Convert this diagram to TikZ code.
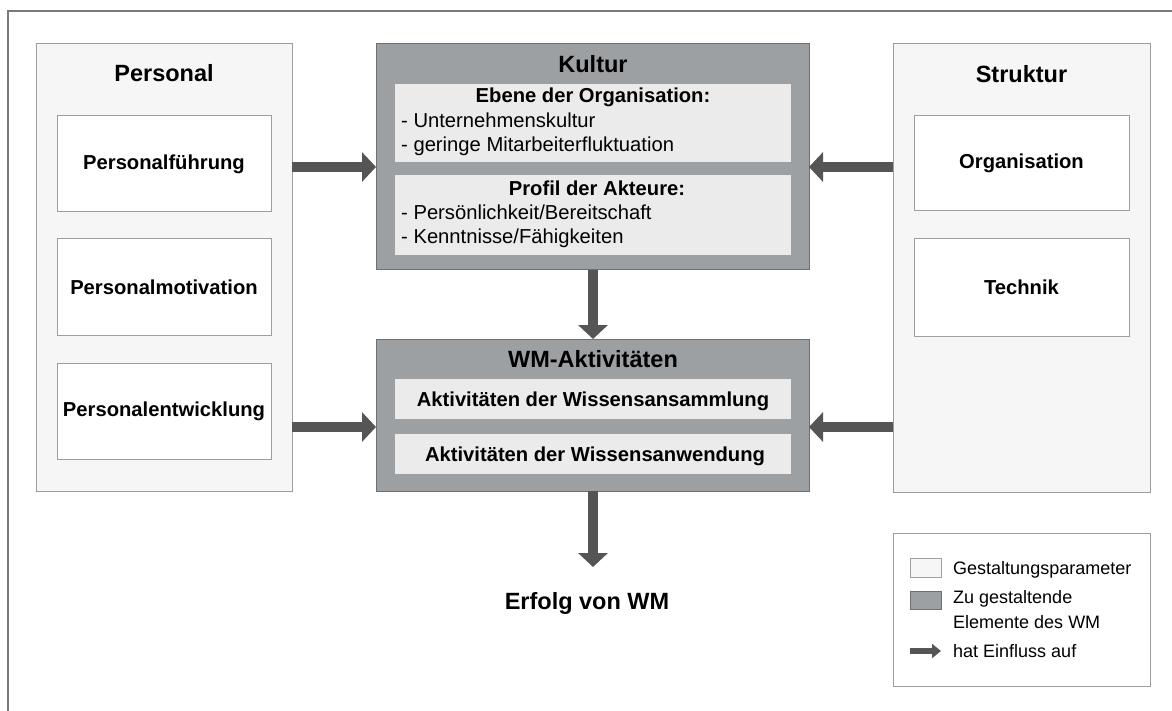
\documentclass[tikz,border=0pt]{standalone}
\usepackage{fontspec}
\setmainfont{Liberation Sans}
\usetikzlibrary{arrows.meta}
\definecolor{framegray}{HTML}{7A7A7A}
\definecolor{paramfill}{HTML}{F6F6F6}
\definecolor{paramline}{HTML}{9E9E9E}
\definecolor{elemfill}{HTML}{9DA0A3}
\definecolor{elemline}{HTML}{707070}
\definecolor{subfill}{HTML}{EBEBEB}
\definecolor{arrowgray}{HTML}{555555}
\begin{document}
\begin{tikzpicture}[x=1pt,y=-1pt,
  box/.style={rectangle,inner sep=0pt,outer sep=0pt,line width=1pt},
  parambox/.style={box,draw=paramline,fill=paramfill},
  itembox/.style={box,draw=paramline,fill=white,font=\bfseries\fontsize{20.2}{23}\selectfont},
  elembox/.style={box,draw=elemline,fill=elemfill},
  subbox/.style={box,fill=subfill},
  title/.style={inner sep=0pt,anchor=base,font=\bfseries\fontsize{23.5}{26}\selectfont},
  subhead/.style={inner sep=0pt,anchor=base,font=\bfseries\fontsize{20.2}{24}\selectfont},
  subitem/.style={inner sep=0pt,anchor=base west,font=\fontsize{20.2}{24}\selectfont},
  legtext/.style={inner sep=0pt,anchor=base west,font=\fontsize{18}{22}\selectfont},
  influence/.style={draw=arrowgray,line width=10pt,-{Triangle[width=29pt,length=14pt,fill=arrowgray]}},
  leginfluence/.style={draw=arrowgray,line width=6pt,-{Triangle[width=14pt,length=9pt,fill=arrowgray]}}
]
\useasboundingbox (0,0) rectangle (1172,711);
\fill[white] (0,0) rectangle (1172,711);
% outer frame
\draw[framegray,line width=1.2pt] (8,711) -- (8,11) -- (1172,11);

% Personal
\node[parambox,minimum width=256pt,minimum height=447pt] (personal) at (164,267.5) {};
\node[title] (personalT) at (164,82) {Personal};
\node[itembox,minimum width=214pt,minimum height=96pt] (fuehrung) at (164,164) {Personalführung};
\node[itembox,minimum width=214pt,minimum height=96pt] (motivation) at (164,287) {Personalmotivation};
\node[itembox,minimum width=214pt,minimum height=96pt] (entwicklung) at (164,411) {Personalentwicklung};

% Struktur
\node[parambox,minimum width=257pt,minimum height=448pt] (struktur) at (1021.5,268) {};
\node[title] (strukturT) at (1021.5,83) {Struktur};
\node[itembox,minimum width=215pt,minimum height=95pt] (organisation) at (1021.5,163.5) {Organisation};
\node[itembox,minimum width=215pt,minimum height=97pt] (technik) at (1021.5,287.5) {Technik};

% Kultur
\node[elembox,minimum width=433pt,minimum height=226pt] (kultur) at (592.5,157) {};
\node[title] (kulturT) at (593,73) {Kultur};
\node[subbox,minimum width=396pt,minimum height=78pt] (ebene) at (593,123) {};
\node[subhead] (ebeneT) at (593,103) {Ebene der Organisation:};
\node[subitem] (ebene1) at (401,128) {- Unternehmenskultur};
\node[subitem] (ebene2) at (401,151.5) {- geringe Mitarbeiterfluktuation};
\node[subbox,minimum width=396pt,minimum height=80pt] (profil) at (593,215) {};
\node[subhead] (profilT) at (597,196) {Profil der Akteure:};
\node[subitem] (profil1) at (401,220) {- Persönlichkeit/Bereitschaft};
\node[subitem] (profil2) at (401,244) {- Kenntnisse/Fähigkeiten};

% WM-Aktivitaeten
\node[elembox,minimum width=433pt,minimum height=152pt] (wm) at (592.5,415) {};
\node[title] (wmT) at (593,367) {WM-Aktivitäten};
\node[subbox,minimum width=396pt,minimum height=40pt] (sammlung) at (593,399) {};
\node[subhead] at (593,406) {Aktivitäten der Wissensansammlung};
\node[subbox,minimum width=396pt,minimum height=40pt] (anwendung) at (593,454) {};
\node[subhead] at (595,461) {Aktivitäten der Wissensanwendung};

% result
\node[title] (erfolg) at (587,609) {Erfolg von WM};
\coordinate (erfolgTop) at (593,567);

% influences
\draw[influence] (personal.east |- 0,167) -- (kultur.west |- 0,167);
\draw[influence] (personal.east |- 0,427) -- (wm.west |- 0,427);
\draw[influence] (struktur.west |- 0,167) -- (kultur.east |- 0,167);
\draw[influence] (struktur.west |- 0,427) -- (wm.east |- 0,427);
\draw[influence] (kultur.south -| 593,0) -- (wm.north -| 593,0);
\draw[influence] (wm.south -| 593,0) -- (erfolgTop);

% legend
\node[box,draw=paramline,fill=white,minimum width=257pt,minimum height=153pt] (legend) at (1021.5,609.5) {};
\node[box,draw=paramline,fill=paramfill,minimum width=31pt,minimum height=19pt] (legParam) at (925.5,567.5) {};
\node[legtext] at (953,574) {Gestaltungsparameter};
\node[box,draw=elemline,fill=elemfill,minimum width=31pt,minimum height=18pt] (legElem) at (925.5,600) {};
\node[legtext] at (953,603) {Zu gestaltende};
\node[legtext] at (953,628) {Elemente des WM};
\coordinate (legArrowA) at (910,651);
\coordinate (legArrowB) at (941,651);
\draw[leginfluence] (legArrowA) -- (legArrowB);
\node[legtext] at (953,657) {hat Einfluss auf};
\end{tikzpicture}
\end{document}
